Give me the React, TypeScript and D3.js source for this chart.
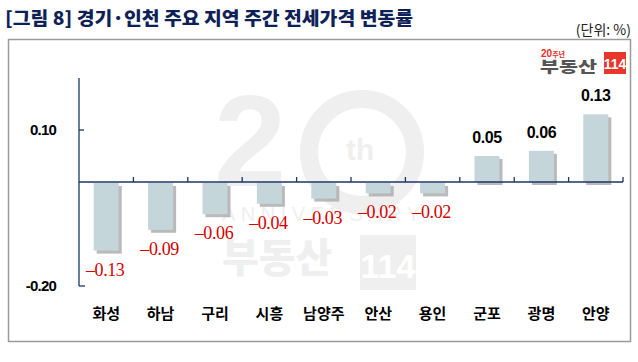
import * as d3 from "d3";

const categories = ["화성", "하남", "구리", "시흥", "남양주", "안산", "용인", "군포", "광명", "안양"];
const values = [-0.13, -0.09, -0.06, -0.04, -0.03, -0.02, -0.02, 0.05, 0.06, 0.13];
const yTicks = [0.1, -0.2];
const yTickLabels = ["0.10", "-0.20"];

const W = 638;
const H = 362;
const navy = "#1c3566";
const barFill = "#c4d6da";
const kr = "'Noto Sans CJK KR', sans-serif";
const num = "'Liberation Sans', Arial, sans-serif";

export default function App() {
  const x = d3.scaleBand<string>().domain(categories).range([79, 623]).padding(0);
  const y = d3.scaleLinear().domain([-0.2, 0.2]).range([286, 78]);
  const bw = x.bandwidth();
  const barW = bw * 0.46;
  const y0 = y(0);

  return (
    <svg
      width={W}
      height={H}
      style={{ position: "absolute", left: 0, top: 0, background: "#fff" }}
    >
      <rect x={0} y={0} width={W} height={H} fill="#fff" />

      {/* title */}
      <text
        x={5}
        y={25}
        fontFamily={kr}
        fontWeight={900}
        fontSize={18}
        fill="#0e2156"
        textLength={408}
        lengthAdjust="spacingAndGlyphs"
      >
        [그림 8] 경기·인천 주요 지역 주간 전세가격 변동률
      </text>
      <text x={631} y={35} textAnchor="end" fontFamily={kr} fontSize={14} fill="#222">
        (단위: %)
      </text>

      {/* frame */}
      <rect x={8.5} y={39.5} width={622} height={302} fill="none" stroke="#9a9a9a" strokeWidth={1.5} />

      {/* watermark */}
      <g fill="#efefef">
        <text x={214} y={186} fontFamily={num} fontWeight={700} fontSize={130}>2</text>
        <circle cx={362} cy={152} r={53} fill="none" stroke="#efefef" strokeWidth={18} />
        <text x={346} y={160} fontFamily={num} fontWeight={700} fontSize={30}>th</text>
        <text x={222} y={221} fontFamily={num} fontSize={20} textLength={198} lengthAdjust="spacing">
          ANNIVERSARY
        </text>
        <text x={222} y={272} fontFamily={kr} fontWeight={900} fontSize={40}>부동산</text>
        <rect x={360} y={235} width={56} height={55} />
        <text x={388} y={278} textAnchor="middle" fontFamily={num} fontWeight={700} fontSize={34} fill="#fff">
          114
        </text>
      </g>

      {/* logo */}
      <g>
        <text x={541} y={57} fontFamily={num} fontWeight={700} fontSize={10} fill="#e0302a">
          20
          <tspan fontFamily={kr} fontSize={7}>주년</tspan>
        </text>
        <text x={540} y={72} fontFamily={kr} fontWeight={900} fontSize={15} fill="#555" textLength={57} lengthAdjust="spacingAndGlyphs">
          부동산
        </text>
        <rect x={604} y={52} width={22} height={22} fill="#e8362c" />
        <text x={615} y={69} textAnchor="middle" fontFamily={num} fontWeight={700} fontSize={14} fill="#fff">
          114
        </text>
      </g>

      {/* bars with shadows */}
      {categories.map((c, i) => {
        const v = values[i];
        const bx = (x(c) ?? 0) + (bw - barW) / 2;
        const top = Math.min(y(v), y0 + 1);
        const h = Math.abs(y(v) - y0);
        return (
          <g key={c}>
            <rect x={bx + 3} y={top + 3} width={barW} height={h} fill="#a9a9a9" opacity={0.8} />
            <rect x={bx} y={top} width={barW} height={h} fill={barFill} />
          </g>
        );
      })}

      {/* axes */}
      <line x1={79} x2={79} y1={y(0.2)} y2={y(-0.2)} stroke={navy} strokeWidth={1.3} />
      <line x1={79} x2={85} y1={y(-0.2)} y2={y(-0.2)} stroke={navy} strokeWidth={1.3} />
      <line x1={79} x2={84} y1={y(0.1)} y2={y(0.1)} stroke={navy} strokeWidth={1.3} />
      <line x1={79} x2={623} y1={y0} y2={y0} stroke={navy} strokeWidth={1.3} />
      {categories.map((c) => {
        const tx = (x(c) ?? 0) + bw;
        return <line key={"t" + c} x1={tx} x2={tx} y1={y0} y2={y0 - 5} stroke={navy} strokeWidth={1.3} />;
      })}

      {yTicks.map((t, i) => (
        <text
          key={"yl" + i}
          x={56}
          y={y(t) + 5}
          textAnchor="end"
          fontFamily={num}
          fontWeight={700}
          fontSize={15}
          letterSpacing={-0.8}
          fill="#000"
        >
          {yTickLabels[i]}
        </text>
      ))}

      {/* value labels */}
      {categories.map((c, i) => {
        const v = values[i];
        const cx = (x(c) ?? 0) + bw / 2;
        if (v < 0) {
          return (
            <text
              key={"v" + c}
              x={cx - 1}
              y={y(v) + 26}
              textAnchor="middle"
              fontFamily="'Liberation Serif', serif"
              fontSize={18}
              letterSpacing={-0.4}
              fill="#d40000"
            >
              {"\u2013" + Math.abs(v).toFixed(2)}
            </text>
          );
        }
        return (
          <text
            key={"v" + c}
            x={cx}
            y={y(v) - 13}
            textAnchor="middle"
            fontFamily={num}
            fontWeight={700}
            fontSize={16}
            letterSpacing={-0.4}
            fill="#000"
          >
            {v.toFixed(2)}
          </text>
        );
      })}

      {/* category labels */}
      {categories.map((c) => (
        <text
          key={"c" + c}
          x={(x(c) ?? 0) + bw / 2}
          y={319}
          textAnchor="middle"
          fontFamily={kr}
          fontWeight={700}
          fontSize={15}
          fill="#000"
        >
          {c}
        </text>
      ))}
    </svg>
  );
}
